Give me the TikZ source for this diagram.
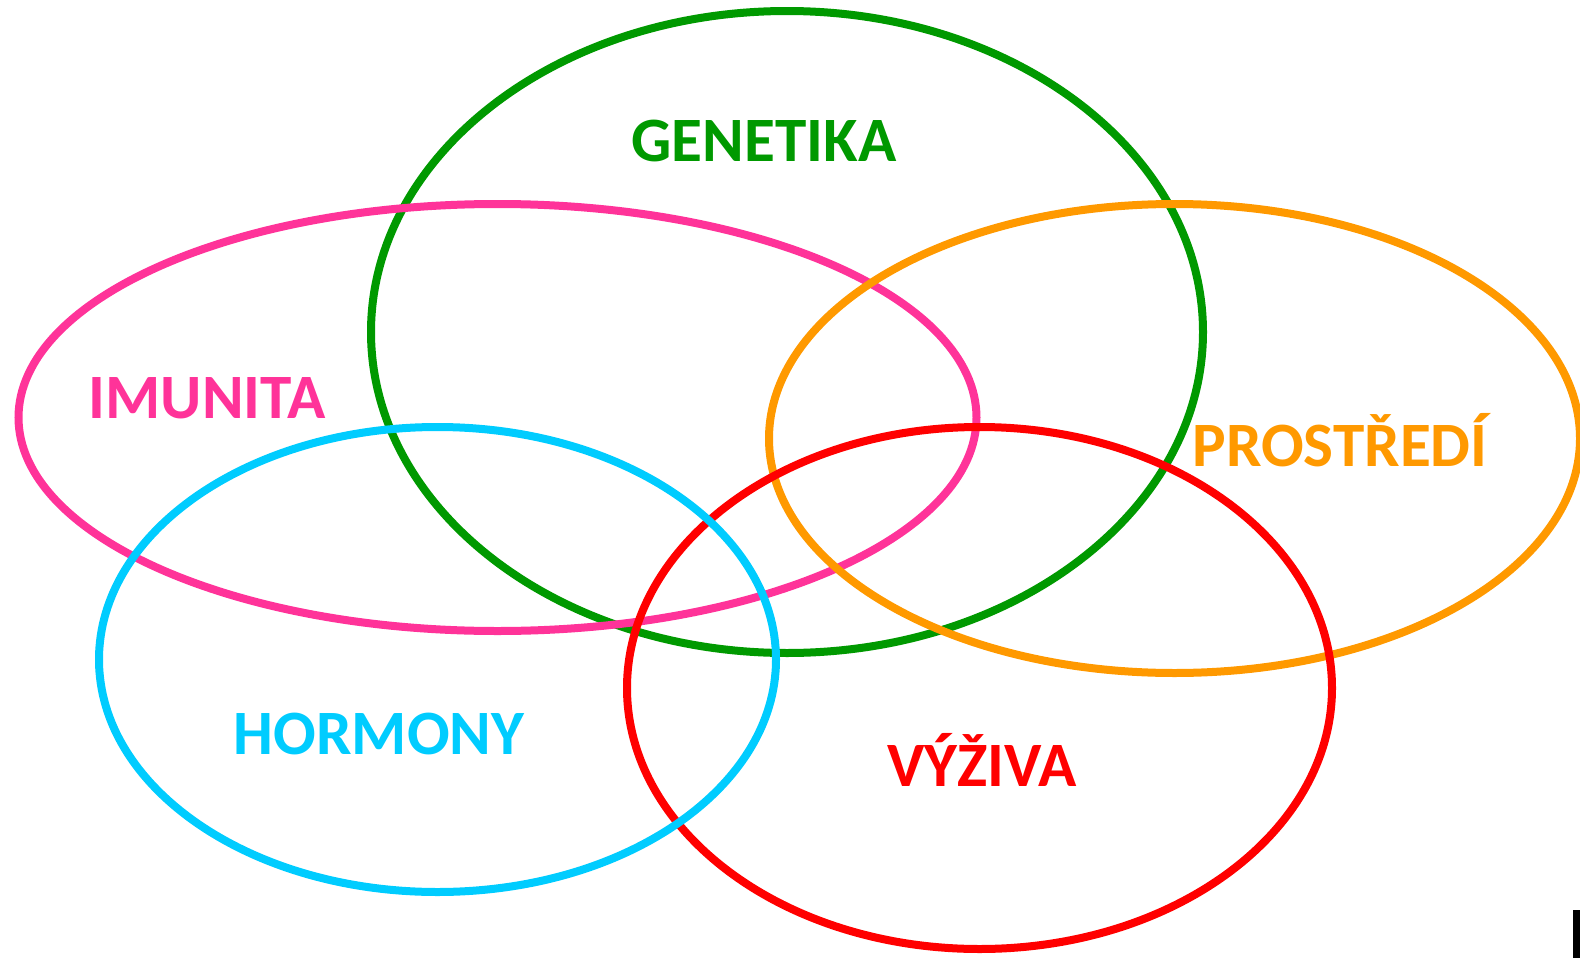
\documentclass[tikz,border=0pt]{standalone}
\usepackage{fontspec}
\setmainfont{Carlito}

\definecolor{genGreen}{RGB}{0,153,0}
\definecolor{imuPink}{RGB}{255,51,153}
\definecolor{proOrange}{RGB}{255,153,0}
\definecolor{horCyan}{RGB}{0,204,255}
\definecolor{vyzRed}{RGB}{255,0,0}

\begin{document}
\begin{tikzpicture}[x=0.5pt, y=-0.5pt,
    ring/.style ={line width=4pt},
    label/.style ={anchor=base, inner sep=0pt, font=\fontsize{31.6}{38}\selectfont\bfseries}]
   \useasboundingbox (0,0) rectangle (1580,958);
   % rings
   \draw[ring, genGreen] (787,332) ellipse [x radius=416, y radius=321];
   \draw[ring, imuPink] (497.5,417.5) ellipse [x radius=479, y radius=213.5];
   \draw[ring, proOrange] (1174.5,438.5) ellipse [x radius=405.5, y radius=234.5];
   \draw[ring, vyzRed] (979.5,688) ellipse [x radius=352.5, y radius=261];
   \draw[ring, horCyan] (437.5,659.5) ellipse [x radius=338.5, y radius=232.5];
   % labels
   \node[label, text=genGreen] (gen) at (764,161) {GENETIKA};
   \node[label, text=imuPink] (imu) at (207,418) {IMUNITA};
   \node[label, text=proOrange] (pro) at (1340,466) {PROSTŘEDÍ};
   \node[label, text=horCyan] (hor) at (379,754) {HORMONY};
   \node[label, text=vyzRed] (vyz) at (982,786) {VÝŽIVA};
   \fill[black] (1573,910) rectangle (1580,958);
 \end{tikzpicture}
\end{document}
